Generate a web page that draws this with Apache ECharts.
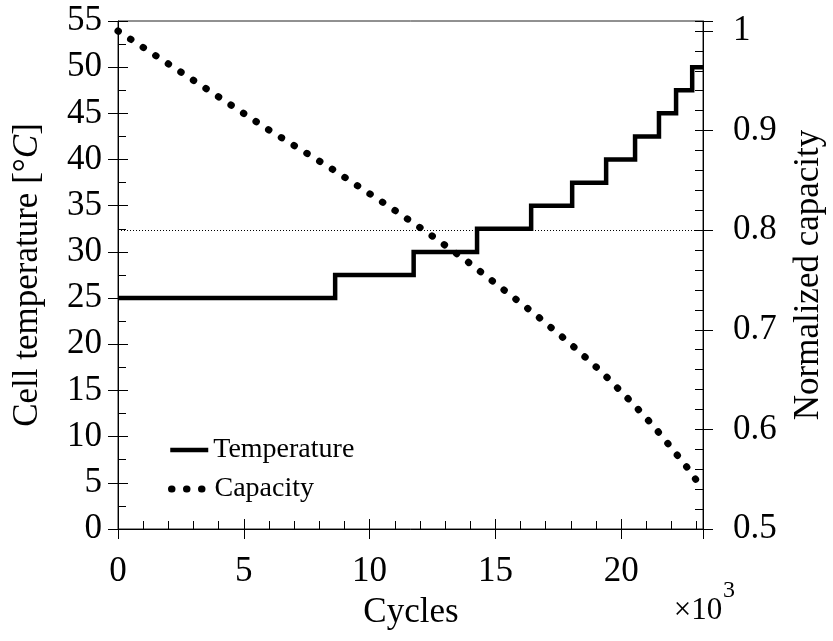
<!DOCTYPE html>
<html>
<head>
<meta charset="utf-8">
<script src="https://cdn.jsdelivr.net/npm/echarts@6/dist/echarts.min.js"></script>
<style>
  html, body { margin: 0; padding: 0; background: #fff; }
  #chart { width: 833px; height: 641px; }
</style>
</head>
<body>
<div id="chart"></div>
<script>
// Cell temperature schedule: start of each level (thousands of cycles) and level in °C
const tempCycles = [0, 8.63, 11.75, 14.27, 16.42, 18.05, 19.40, 20.55, 21.50, 22.18, 22.82, 23.25];
const temperature = [25, 27.5, 30, 32.5, 35, 37.5, 40, 42.5, 45, 47.5, 50, 50];

// Normalized capacity along the cycling history
const capCycles = [0, 3.45, 5.91, 8.41, 10.88, 12.33, 13.76, 16.56, 17.93, 19.21, 20.46, 21.26, 22.01, 22.74, 23.09];
const capacity = [1.000, 0.943, 0.902, 0.863, 0.822, 0.797, 0.771, 0.716, 0.687, 0.658, 0.626, 0.604, 0.581, 0.558, 0.545];

// End-of-life threshold on the capacity axis
const eolCapacity = 0.8;

// Tick labels
const xTickLabels = [0, 5, 10, 15, 20];
const leftTickLabels = [0, 5, 10, 15, 20, 25, 30, 35, 40, 45, 50, 55];
const rightTickLabels = [0.5, 0.6, 0.7, 0.8, 0.9, 1];

const FONT = "'Liberation Serif', 'Times New Roman', serif";
const X_MAX = 23.25, Y_MAX = 55, R_MIN = 0.5, R_MAX = 1.01;

function pickLabel(list) {
  return function (v) {
    for (const t of list) if (Math.abs(v - t) < 1e-6) return String(t);
    return '';
  };
}

const tempData = tempCycles.map((c, i) => [c, temperature[i]]);
const capData = capCycles.map((c, i) => [c, capacity[i]]);

const hidden = { show: false };
const baseLabel = { color: '#000', fontFamily: FONT, fontSize: 35 };

const tempLine = { color: '#000', width: 4.5, join: 'miter' };
const capLine = { color: '#000', width: 7, type: [0.5, 14.5], cap: 'round' };

function tickOnlyAxis(extra) {
  return Object.assign({
    type: 'value',
    axisLine: { show: false, onZero: false },
    axisLabel: hidden,
    splitLine: hidden
  }, extra);
}

function legendFor(name, top, lineStyle) {
  return {
    data: [name], left: 168, top: top, padding: 0,
    itemWidth: 38, itemHeight: 14, selectedMode: false,
    itemStyle: { opacity: 0 },
    lineStyle: lineStyle,
    textStyle: { color: '#000', fontFamily: FONT, fontSize: 28 }
  };
}

const chart = echarts.init(document.getElementById('chart'), null, { renderer: 'canvas' });

chart.setOption({
  animation: false,
  backgroundColor: '#fff',
  grid: { left: 118, top: 21, width: 585, height: 508, show: true, borderColor: '#222', borderWidth: 1, backgroundColor: 'transparent' },
  legend: [
    legendFor('Temperature', 436, tempLine),
    legendFor('Capacity', 475, capLine)
  ],
  xAxis: [
    {
      type: 'value', min: 0, max: X_MAX, interval: 5, position: 'bottom',
      axisLine: { show: true, onZero: false, lineStyle: { color: '#000', width: 1 } },
      axisTick: { show: true, inside: true, length: 10, lineStyle: { color: '#000' } },
      axisLabel: Object.assign({ margin: 25, formatter: pickLabel(xTickLabels), showMaxLabel: false }, baseLabel),
      splitLine: hidden
    },
    tickOnlyAxis({ min: 0, max: X_MAX, interval: 1, position: 'bottom',
      axisTick: { show: true, inside: true, length: 8, lineStyle: { color: '#000' } } }),
    tickOnlyAxis({ min: 0, max: X_MAX, interval: 5, position: 'bottom',
      axisTick: { show: true, inside: false, length: 10, lineStyle: { color: '#000' } } })
  ],
  yAxis: [
    {
      type: 'value', min: 0, max: Y_MAX, interval: 5, position: 'left',
      axisLine: { show: true, onZero: false, lineStyle: { color: '#000', width: 1 } },
      axisTick: { show: true, inside: true, length: 10, lineStyle: { color: '#000' } },
      axisLabel: Object.assign({ margin: 16, formatter: pickLabel(leftTickLabels) }, baseLabel),
      splitLine: hidden
    },
    {
      type: 'value', min: R_MIN, max: R_MAX, interval: 0.1, position: 'right',
      axisLine: { show: true, onZero: false, lineStyle: { color: '#000', width: 1 } },
      axisTick: { show: true, inside: true, length: 8, lineStyle: { color: '#000' } },
      axisLabel: Object.assign({ margin: 30, formatter: pickLabel(rightTickLabels), showMaxLabel: false }, baseLabel),
      splitLine: hidden
    },
    tickOnlyAxis({ min: 0, max: Y_MAX, interval: 2.5, position: 'left',
      axisTick: { show: true, inside: true, length: 8, lineStyle: { color: '#000' } } }),
    tickOnlyAxis({ min: R_MIN, max: R_MAX, interval: 0.02, position: 'right',
      axisTick: { show: true, inside: true, length: 8, lineStyle: { color: '#000' } } }),
    tickOnlyAxis({ min: 0, max: Y_MAX, interval: 5, position: 'left',
      axisTick: { show: true, inside: false, length: 10, lineStyle: { color: '#000' } } }),
    tickOnlyAxis({ min: R_MIN, max: R_MAX, interval: 0.1, position: 'right',
      axisTick: { show: true, inside: false, length: 10, lineStyle: { color: '#000' } } })
  ],
  series: [
    {
      name: 'Temperature', type: 'line', step: 'end',
      xAxisIndex: 0, yAxisIndex: 0,
      data: tempData, showSymbol: false, symbol: 'none',
      lineStyle: tempLine,
      itemStyle: { color: '#000' },
      z: 3
    },
    {
      name: 'Capacity', type: 'line',
      xAxisIndex: 0, yAxisIndex: 1,
      data: capData, showSymbol: false, symbol: 'none',
      lineStyle: capLine,
      itemStyle: { color: '#000' },
      markLine: {
        silent: true, symbol: ['none', 'none'], label: { show: false },
        lineStyle: { color: '#000', width: 1, type: [1, 2] },
        data: [{ yAxis: eolCapacity }]
      },
      z: 4
    }
  ],
  graphic: [
    {
      type: 'text', x: 28, y: 275, rotation: Math.PI / 2,
      style: {
        text: '{n|Cell temperature [°}{i|C}{n|]}',
        align: 'center', verticalAlign: 'middle',
        rich: {
          n: { fontFamily: FONT, fontSize: 35, fill: '#000' },
          i: { fontFamily: FONT, fontSize: 35, fontStyle: 'italic', fill: '#000' }
        }
      }
    },
    {
      type: 'text', x: 809, y: 275, rotation: Math.PI / 2,
      style: { text: 'Normalized capacity', align: 'center', verticalAlign: 'middle',
        font: '35px ' + FONT, fill: '#000' }
    },
    {
      type: 'text', x: 411, y: 613,
      style: { text: 'Cycles', align: 'center', verticalAlign: 'middle',
        font: '35px ' + FONT, fill: '#000' }
    },
    {
      type: 'text', x: 698, y: 611,
      style: { text: '×10', align: 'center', verticalAlign: 'middle',
        font: '31px ' + FONT, fill: '#000' }
    },
    {
      type: 'text', x: 729, y: 591,
      style: { text: '3', align: 'center', verticalAlign: 'middle',
        font: '24px ' + FONT, fill: '#000' }
    }
  ]
});
</script>
</body>
</html>
